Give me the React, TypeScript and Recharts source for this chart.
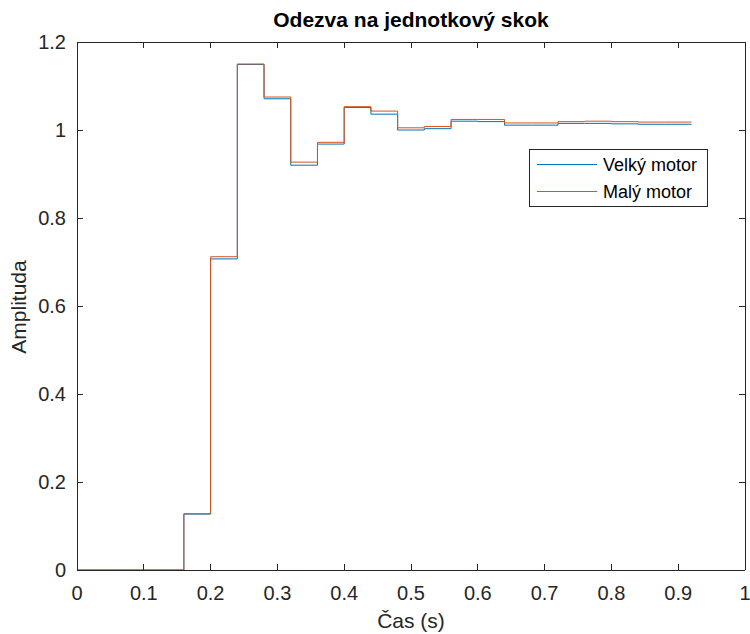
import { LineChart, Line, XAxis, YAxis, Legend } from "recharts"

// sample times of the discrete step response (Ts = 0.04 s)
const TIME = [
  0, 0.04, 0.08, 0.12, 0.16, 0.2, 0.24, 0.28, 0.32, 0.36, 0.4, 0.44,
  0.48, 0.52, 0.56, 0.6, 0.64, 0.68, 0.72, 0.76, 0.8, 0.84, 0.88, 0.92,
]
const VELKY_MOTOR = [
  0, 0, 0, 0, 0.127, 0.707, 1.149, 1.071, 0.92, 0.968, 1.051, 1.036,
  1.0, 1.003, 1.02, 1.019, 1.011, 1.011, 1.015, 1.015, 1.014, 1.013, 1.013, 1.013,
]
const MALY_MOTOR = [
  0, 0, 0, 0, 0.128, 0.712, 1.15, 1.075, 0.927, 0.972, 1.053, 1.043,
  1.005, 1.008, 1.024, 1.024, 1.016, 1.016, 1.019, 1.02, 1.019, 1.018, 1.018, 1.018,
]
const X_TICKS = [0, 0.1, 0.2, 0.3, 0.4, 0.5, 0.6, 0.7, 0.8, 0.9, 1]
const X_TICK_LABELS = ["0", "0.1", "0.2", "0.3", "0.4", "0.5", "0.6", "0.7", "0.8", "0.9", "1"]
const Y_TICKS = [0, 0.2, 0.4, 0.6, 0.8, 1, 1.2]
const Y_TICK_LABELS = ["0", "0.2", "0.4", "0.6", "0.8", "1", "1.2"]

const SERIES_NAMES = ["Velký motor", "Malý motor"]
const BLUE = "#0072BD"
const ORANGE = "#D95319"
const AXIS = "#262626"
const FONT = "'Liberation Sans', Helvetica, Arial, sans-serif"
const TICK_LEN = 6

const data = TIME.map((t, i) => ({ t, velky: VELKY_MOTOR[i], maly: MALY_MOTOR[i] }))

// matlab style: ticks point inward, labels outside
function BottomTick({ x, y, payload }: any) {
  const idx = X_TICKS.indexOf(payload.value)
  return (
    <g>
      <line x1={x} y1={y} x2={x} y2={y - TICK_LEN} stroke={AXIS} shapeRendering="crispEdges" />
      <text x={x} y={y + 30} textAnchor="middle" fontSize={20} fill={AXIS} fontFamily={FONT}>
        {X_TICK_LABELS[idx]}
      </text>
    </g>
  )
}

function TopTick({ x, y }: any) {
  return <line x1={x} y1={y} x2={x} y2={y + TICK_LEN} stroke={AXIS} shapeRendering="crispEdges" />
}

function LeftTick({ x, y, payload }: any) {
  const idx = Y_TICKS.indexOf(payload.value)
  return (
    <g>
      <line x1={x} y1={y} x2={x + TICK_LEN} y2={y} stroke={AXIS} shapeRendering="crispEdges" />
      <text x={x - 11} y={y + 7} textAnchor="end" fontSize={20} fill={AXIS} fontFamily={FONT}>
        {Y_TICK_LABELS[idx]}
      </text>
    </g>
  )
}

function RightTick({ x, y }: any) {
  return <line x1={x} y1={y} x2={x - TICK_LEN} y2={y} stroke={AXIS} shapeRendering="crispEdges" />
}

function LegendBox() {
  const colors = [BLUE, ORANGE]
  return (
    <svg width={180} height={59} style={{ display: "block" }}>
      <rect x={0.5} y={0.5} width={178} height={57} fill="#fff" stroke={AXIS} />
      {SERIES_NAMES.map((name, i) => (
        <g key={name}>
          <line x1={8} x2={68} y1={15.5 + i * 27} y2={15.5 + i * 27} stroke={colors[i]} />
          <text x={74} y={22 + i * 27} fontSize={18} fill="#000" fontFamily={FONT}>
            {name}
          </text>
        </g>
      ))}
    </svg>
  )
}

export default function App() {
  const axisLine = { stroke: AXIS, shapeRendering: "crispEdges" }
  return (
    <div style={{ position: "absolute", left: 0, top: 0, width: 750, height: 634, background: "#fff" }}>
      <LineChart width={750} height={634} data={data} margin={{ top: 41, right: 4, bottom: 63, left: 76 }}>
        <XAxis
          dataKey="t"
          type="number"
          domain={[0, 1]}
          ticks={X_TICKS}
          interval={0}
          height={1}
          tickSize={0}
          tickMargin={0}
          tick={<BottomTick />}
          axisLine={axisLine}
          allowDataOverflow
        />
        <XAxis
          xAxisId="top"
          orientation="top"
          dataKey="t"
          type="number"
          domain={[0, 1]}
          ticks={X_TICKS}
          interval={0}
          height={1}
          tickSize={0}
          tickMargin={0}
          tick={<TopTick />}
          axisLine={axisLine}
          allowDataOverflow
        />
        <YAxis
          type="number"
          domain={[0, 1.2]}
          ticks={Y_TICKS}
          interval={0}
          width={1}
          tickSize={0}
          tickMargin={0}
          tick={<LeftTick />}
          axisLine={axisLine}
          allowDataOverflow
        />
        <YAxis
          yAxisId="right"
          orientation="right"
          type="number"
          domain={[0, 1.2]}
          ticks={Y_TICKS}
          interval={0}
          width={1}
          tickSize={0}
          tickMargin={0}
          tick={<RightTick />}
          axisLine={axisLine}
          allowDataOverflow
        />
        <Line
          type="stepAfter"
          dataKey="velky"
          name={SERIES_NAMES[0]}
          stroke={BLUE}
          strokeWidth={1}
          dot={false}
          isAnimationActive={false}
        />
        <Line
          type="stepAfter"
          dataKey="maly"
          name={SERIES_NAMES[1]}
          stroke={ORANGE}
          strokeWidth={1}
          dot={false}
          isAnimationActive={false}
        />
        <Legend
          layout="horizontal"
          verticalAlign="middle"
          align="center"
          wrapperStyle={{ left: 529, top: 149, width: 180, height: 59 }}
          content={() => <LegendBox />}
        />
      </LineChart>
      <svg
        width={750}
        height={634}
        style={{ position: "absolute", left: 0, top: 0, pointerEvents: "none" }}
      >
        <text x={411} y={27} textAnchor="middle" fontSize={21} fontWeight="bold" fill="#000" fontFamily={FONT}>
          Odezva na jednotkový skok
        </text>
        <text x={411} y={628} textAnchor="middle" fontSize={21} fill={AXIS} fontFamily={FONT}>
          Čas (s)
        </text>
        <text
          x={26}
          y={307}
          transform="rotate(-90 26 307)"
          textAnchor="middle"
          fontSize={21}
          fill={AXIS}
          fontFamily={FONT}
        >
          Amplituda
        </text>
      </svg>
    </div>
  )
}
